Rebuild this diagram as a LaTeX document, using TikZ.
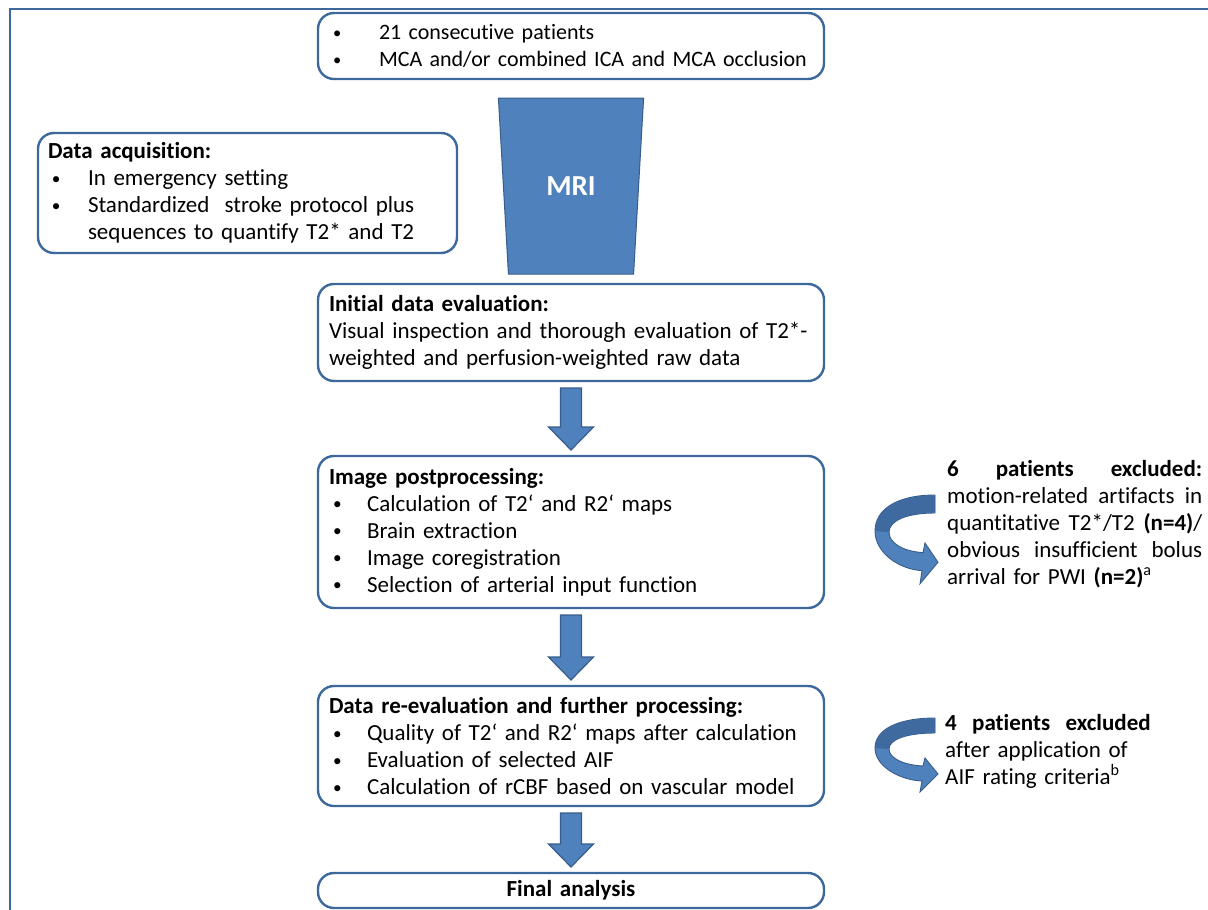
\documentclass[tikz,border=0pt]{standalone}
\usepackage{fontspec}
\setmainfont{Carlito}[Ligatures={TeX,NoCommon}]
\usetikzlibrary{positioning,calc,shapes.geometric}

\definecolor{boxblue}{RGB}{61,104,155}
\definecolor{arrfill}{RGB}{79,129,189}
\definecolor{arrline}{RGB}{56,93,138}
\definecolor{arrdark}{RGB}{62,106,160}

\newcommand{\bpt}[1][38pt]{\makebox[#1][l]{\hspace{4pt}\raisebox{.12ex}{\scalebox{.75}{\textbullet}}}}
\newcommand{\blkarrow}[2]{%
  \draw[blockarr] ($(#1.south)+(-10.5,7)$) -- ($(#1.south)+(10.5,7)$)
    -- ($(#2.north)+(10.5,-29)$) -- ($(#2.north)+(22.5,-29)$)
    -- ($(#2.north)+(0,-6)$) -- ($(#2.north)+(-22.5,-29)$)
    -- ($(#2.north)+(-10.5,-29)$) -- cycle;}

\tikzset{
  flowbox/.style={draw=boxblue,line width=2.4pt,rounded corners=16pt,fill=white,
    align=left,text width=484pt,inner xsep=11pt,inner ysep=0pt,outer sep=0pt,
    font=\fontsize{23}{27}\selectfont},
  mriblk/.style={trapezium,trapezium stretches=true,shape border rotate=180,
    trapezium left angle=80,trapezium right angle=80,minimum width=146pt,
    minimum height=176pt,fill=arrfill,draw=arrline,line width=1pt,text=white,
    font=\bfseries\fontsize{29}{34}\selectfont},
  blockarr/.style={fill=arrfill,draw=arrline,line width=1.2pt,line join=miter},
  turnarr/.style={fill=arrfill,draw=arrline,line width=0.9pt},
  excltxt/.style={align=left,inner sep=0pt,text width=255pt,
    font=\fontsize{23}{27}\selectfont},
  framel/.style={draw=boxblue,line width=1.6pt},
  pics/turnarrow/.style={code={
    \draw[turnarr] (0,0) .. controls (-38,0) and (-60,12) .. (-60,30)
      .. controls (-60,48) and (-36,62) .. (-13,63) -- (-15,74) -- (3,56)
      -- (-10,40) -- (-12,48) .. controls (-32,47) and (-46,40) .. (-46,31)
      .. controls (-46,22) and (-30,15) .. (0,15) -- cycle;
    \fill[arrdark] (0,0.5) .. controls (-38,0.5) and (-59.5,12) .. (-59.5,30)
      -- (-46.5,31) .. controls (-46.5,22) and (-30,14.5) .. (0,14.5) -- cycle;
  }}
}

\begin{document}
\begin{tikzpicture}[x=1pt,y=-1pt,node distance=75pt]
  \useasboundingbox (0,0) rectangle (1208,910);
  \draw[framel] (10,910) -- (10,9) -- (1208,9);

  % main column
  \node[flowbox,minimum height=66pt,font=\fontsize{22}{27}\selectfont] (cohort) at (571,46)
    {\bpt[50pt]\mbox{21 consecutive patients}\\
     \bpt[50pt]\mbox{MCA and/or combined ICA and MCA occlusion}};
  \node[flowbox,text width=399pt,inner xsep=10pt,minimum height=120pt] (acq) at (247.5,193)
    {\textbf{Data acquisition:}\\
     \bpt[40pt]In emergency setting\\
     \bpt[40pt]Standardized\ \ stroke protocol plus\\
     \hspace*{40pt}sequences to quantify T2* and T2};
  \node[mriblk] (mri) at ($(cohort.south)+(0,107)$) {MRI};
  \node[flowbox,minimum height=97pt,below=205pt of cohort] (init)
    {\textbf{Initial data evaluation:}\\
     Visual inspection and thorough evaluation of T2*-\\
     weighted and perfusion-weighted raw data};
  \node[flowbox,minimum height=152pt,below=of init] (post)
    {\textbf{Image postprocessing:}\\
     \bpt Calculation of T2‘ and R2‘ maps\\
     \bpt Brain extraction\\
     \bpt Image coregistration\\
     \bpt Selection of arterial input function};
  \node[flowbox,minimum height=120pt,below=78pt of post] (reeval)
    {\textbf{Data re-evaluation and further processing:}\\
     \bpt Quality of T2‘ and R2‘ maps after calculation\\
     \bpt Evaluation of selected AIF\\
     \bpt Calculation of rCBF based on vascular model};
  \node[flowbox,minimum height=35pt,align=center,below=67pt of reeval] (final)
    {\textbf{Final analysis}};

  \blkarrow{init}{post}
  \blkarrow{post}{reeval}
  \blkarrow{reeval}{final}

  % exclusions
  \pic[yscale=1.2] at (935,495) {turnarrow};
  \node[excltxt,anchor=west] (excl1) at (947,524)
    {\makebox[255pt]{\textbf{6}\hfill\textbf{patients}\hfill\textbf{excluded:}}\\
     \makebox[255pt]{motion-related\hfill artifacts\hfill in}\\
     \makebox[255pt]{quantitative\hfill T2*/T2\hfill\textbf{(n=4)}/}\\
     \makebox[255pt]{obvious\hfill insufficient\hfill bolus}\\
     arrival for PWI \textbf{(n=2)}\textsuperscript{a}};
  \pic at (935,718) {turnarrow};
  \node[excltxt,anchor=west] (excl2) at (945,751)
    {\textbf{4\ \ patients\ \ excluded}\\
     after application of\\
     AIF rating criteria\textsuperscript{b}};
\end{tikzpicture}
\end{document}
